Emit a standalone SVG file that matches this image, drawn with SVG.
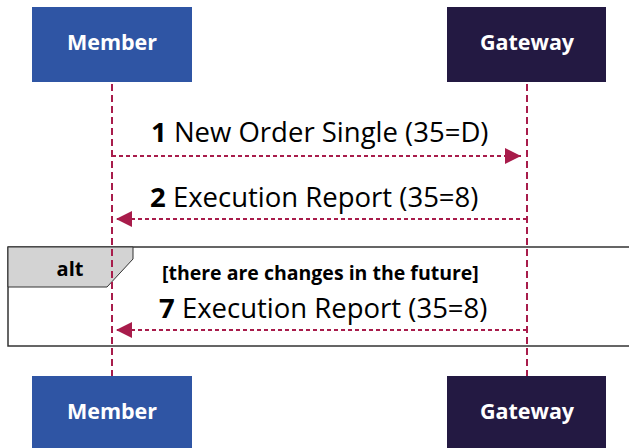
<svg xmlns="http://www.w3.org/2000/svg" width="629" height="448" viewBox="0 0 629 448">
<style>
.box-m{fill:#2f55a4}
.box-g{fill:#231942}
.lbl{font-family:"Open Sans","Noto Sans",sans-serif;font-weight:bold;font-size:21.5px;fill:#ffffff;text-anchor:middle}
.life{stroke:#a81c4b;stroke-width:2;stroke-dasharray:7,4;fill:none}
.msg{stroke:#a81c4b;stroke-width:2;stroke-dasharray:4,3;fill:none}
.mt{font-family:"Open Sans","Noto Sans",sans-serif;font-size:27.5px;fill:#000}
.b{font-weight:bold}
.frame{fill:none;stroke:#333;stroke-width:1.5}
.tab{fill:#d3d3d3;stroke:#333;stroke-width:1}
.alt{font-family:"Open Sans","Noto Sans",sans-serif;font-weight:bold;font-size:20px;fill:#000;text-anchor:middle}
.cond{font-family:"Open Sans","Noto Sans",sans-serif;font-weight:bold;font-size:19.5px;fill:#000}
</style>
<defs>
<marker id="ah" viewBox="0 0 16 16" refX="16" refY="8" markerWidth="16" markerHeight="16" markerUnits="userSpaceOnUse" orient="auto">
<path d="M0,0 L16,8 L0,16 Z" fill="#a81c4b"/>
</marker>
</defs>
<g id="alt-frame">
<rect class="frame" x="8" y="247" width="630" height="99"/>
<path class="tab" d="M8,247 H133 V259 L107,287 H8 Z"/>
<text class="alt" x="70" y="276">alt</text>
<text class="cond" x="162" y="280">[there are changes in the future]</text>
</g>
<g id="lifelines">
<line class="life" x1="112" y1="84" x2="112" y2="376"/>
<line class="life" x1="527" y1="84" x2="527" y2="376"/>
</g>
<g id="connectors">
<line class="msg" x1="112" y1="156" x2="521" y2="156" marker-end="url(#ah)"/>
<text class="mt" x="151" y="142"><tspan class="b">1</tspan> New Order Single (35=D)</text>
<line class="msg" x1="527" y1="219" x2="116" y2="219" marker-end="url(#ah)"/>
<text class="mt" x="150" y="207"><tspan class="b">2</tspan> Execution Report (35=8)</text>
<line class="msg" x1="527" y1="330" x2="116" y2="330" marker-end="url(#ah)"/>
<text class="mt" x="159" y="318"><tspan class="b">7</tspan> Execution Report (35=8)</text>
</g>
<g id="member-top">
<rect class="box-m" x="32" y="7" width="160" height="75"/>
<text class="lbl" x="112" y="50">Member</text>
</g>
<g id="gateway-top">
<rect class="box-g" x="447" y="7" width="159" height="75"/>
<text class="lbl" x="527" y="50">Gateway</text>
</g>
<g id="member-bottom">
<rect class="box-m" x="32" y="376" width="160" height="75"/>
<text class="lbl" x="112" y="419">Member</text>
</g>
<g id="gateway-bottom">
<rect class="box-g" x="447" y="376" width="159" height="75"/>
<text class="lbl" x="527" y="419">Gateway</text>
</g>
</svg>
